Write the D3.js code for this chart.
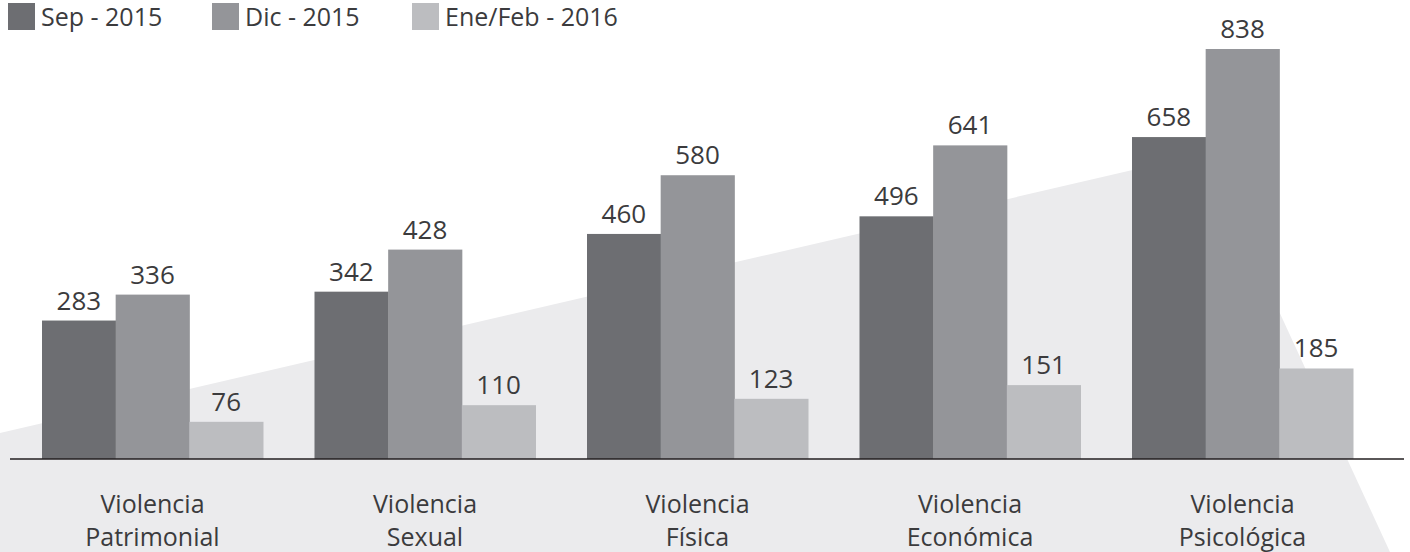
<!DOCTYPE html>
<html lang="es">
<head>
    <meta charset="UTF-8">
    <title>Tipos de violencia</title>
    <script src="https://d3js.org/d3.v7.min.js"></script>
    <style>
        body { margin: 0; background: #ffffff; font-family: 'Open Sans', sans-serif; }
        svg { display: block; }
        .value-label { font-size: 26px; fill: #3b3b3d; text-anchor: middle; }
        .cat-label { font-size: 25px; fill: #3b3b3d; text-anchor: middle; }
        .legend-label { font-size: 25px; fill: #3b3b3d; }
    </style>
</head>
<body>
<svg id="chart" width="1410" height="552"></svg>
<script>
    // Datos
    const categories = ["Violencia Patrimonial", "Violencia Sexual", "Violencia Física", "Violencia Económica", "Violencia Psicológica"];
    const seriesNames = ["Sep - 2015", "Dic - 2015", "Ene/Feb - 2016"];
    const sep2015 = [283, 342, 460, 496, 658];
    const dic2015 = [336, 428, 580, 641, 838];
    const eneFeb2016 = [76, 110, 123, 151, 185];

    const colors = ["#6d6e72", "#949599", "#bcbdc0"];
    const allSeries = [sep2015, dic2015, eneFeb2016];

    const svg = d3.select("#chart");
    const baseY = 459;

    // fondo gris (forma decorativa)
    const bgShape = [[0, 433], [1206, 153], [1390, 552], [0, 552]];
    svg.append("polygon")
        .attr("points", bgShape.map(p => p.join(",")).join(" "))
        .attr("fill", "#ebebed");

    const x0 = d3.scaleBand().domain(categories).range([42, 1353]).paddingInner(0.189);
    const x1 = d3.scaleBand().domain(seriesNames).range([0, x0.bandwidth()]);
    const y = d3.scaleLinear().domain([0, 838]).range([baseY, 49]);

    const groups = svg.selectAll("g.cat")
        .data(categories)
        .enter().append("g")
        .attr("class", "cat")
        .attr("transform", d => `translate(${x0(d)},0)`);

    groups.each(function(cat, ci) {
        const g = d3.select(this);
        seriesNames.forEach((s, si) => {
            const v = allSeries[si][ci];
            g.append("rect")
                .attr("x", x1(s))
                .attr("y", y(v))
                .attr("width", x1.bandwidth() + 0.5)
                .attr("height", baseY - y(v))
                .attr("fill", colors[si]);
            g.append("text")
                .attr("class", "value-label")
                .attr("x", x1(s) + x1.bandwidth() / 2)
                .attr("y", y(v) - 11)
                .text(v);
        });
    });

    // eje
    svg.append("line")
        .attr("x1", 10).attr("x2", 1404)
        .attr("y1", baseY).attr("y2", baseY)
        .attr("stroke", "#231f20").attr("stroke-width", 1.5);

    // etiquetas de categoría en dos líneas
    categories.forEach(cat => {
        const parts = cat.split(" ");
        const cx = x0(cat) + x0.bandwidth() / 2;
        const t = svg.append("text")
            .attr("class", "cat-label")
            .attr("y", 513);
        t.append("tspan").attr("x", cx).text(parts[0]);
        t.append("tspan").attr("x", cx).attr("dy", 33).text(parts[1]);
    });

    // leyenda
    const legendX = [8, 212, 412];
    const legend = svg.selectAll("g.legend")
        .data(seriesNames)
        .enter().append("g")
        .attr("class", "legend")
        .attr("transform", (d, i) => `translate(${legendX[i]},3)`);
    legend.append("rect")
        .attr("width", 27).attr("height", 27)
        .attr("fill", (d, i) => colors[i]);
    legend.append("text")
        .attr("class", "legend-label")
        .attr("x", 33).attr("y", 23)
        .text(d => d);
</script>
</body>
</html>
